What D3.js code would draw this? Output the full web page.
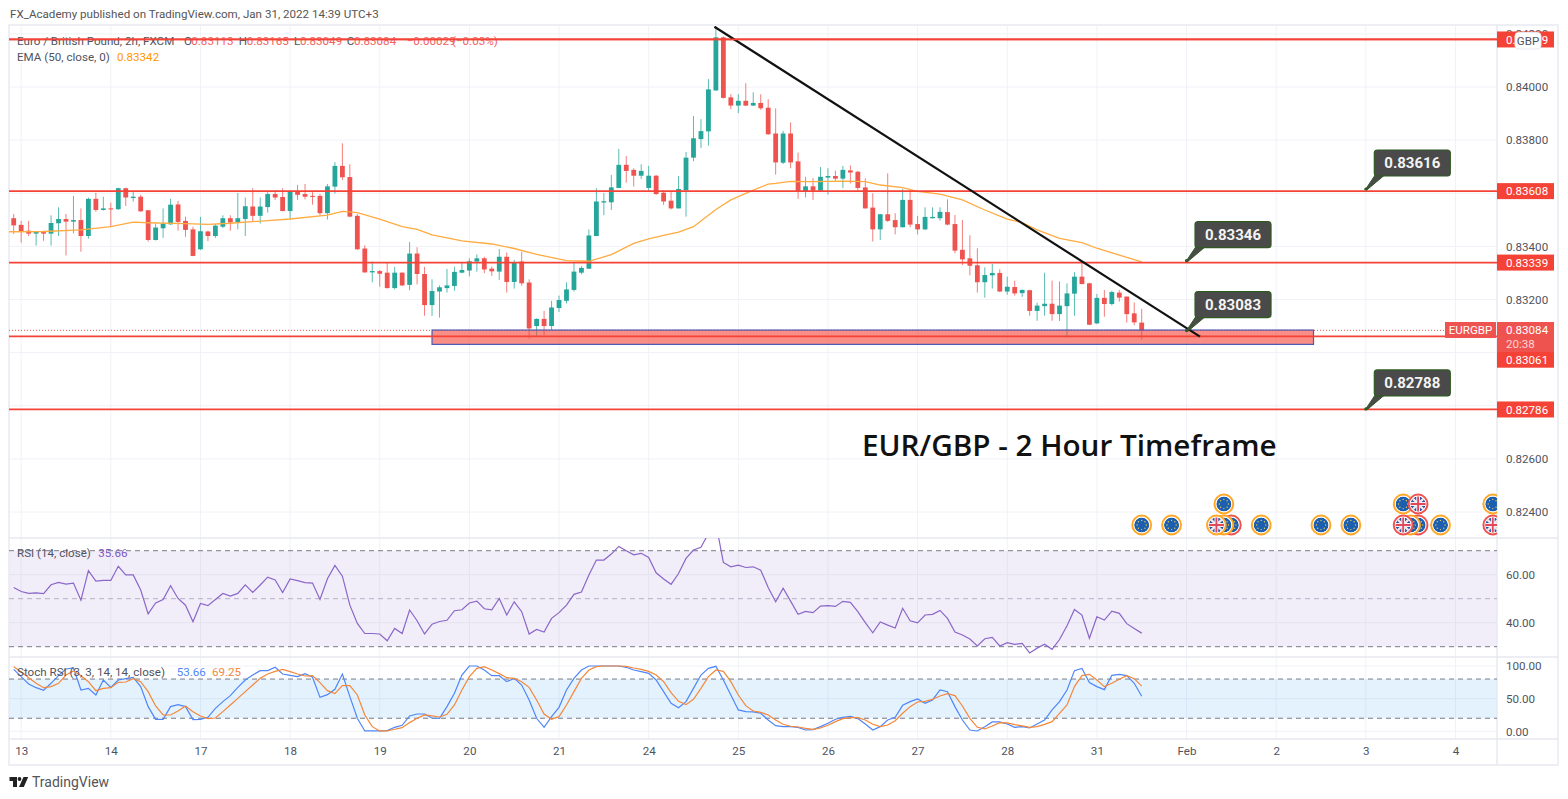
<!DOCTYPE html>
<html><head><meta charset="utf-8">
<style>html,body{margin:0;padding:0;background:#fff}svg{display:block;font-family:Roboto,sans-serif}</style>
<script src="https://cdn.jsdelivr.net/npm/d3@7"></script></head>
<body><svg id="c" width="1568" height="799"></svg>
<script>
// Prices in 1e-5 units, per 2-hour bar
const candleOpen=[83506,83481,83459,83448,83454,83448,83487,83503,83493,83499,
83439,83579,83537,83543,83540,83619,83582,83587,83536,83424,
83468,83483,83558,83496,83464,83389,83456,83439,83474,83506,
83490,83503,83550,83515,83548,83597,83586,83533,83606,83597,
83590,83590,83525,83625,83703,83661,83515,83392,83302,83307,
83301,83243,83301,83255,83373,83296,83179,83230,83243,83251,
83301,83309,83343,83355,83316,83305,83361,83266,83343,83264,
83100,83127,83100,83168,83195,83236,83301,83316,83439,83565,
83566,83620,83707,83688,83666,83620,83666,83602,83572,83543,
83612,83734,83804,83833,83987,84187,83961,83930,83948,83930,
83940,83922,83825,83715,83825,83720,83607,83626,83610,83659,
83665,83655,83686,83681,83622,83546,83464,83521,83499,83472,
83575,83484,83464,83506,83506,83529,83484,83387,83355,83329,
83265,83291,83300,83230,83247,83224,83235,83157,83175,83184,
83145,83175,83222,83286,83261,83110,83206,83183,83226,83211,
83148,83113];
const candleHigh=[83522,83496,83496,83457,83459,83517,83547,83522,83590,83543,
83584,83602,83587,83565,83621,83621,83605,83594,83537,83487,
83543,83579,83571,83512,83474,83511,83459,83484,83517,83517,
83601,83584,83619,83584,83604,83612,83619,83612,83631,83635,
83604,83597,83635,83717,83788,83709,83522,83404,83343,83311,
83339,83323,83302,83417,83397,83323,83276,83253,83315,83323,
83340,83355,83370,83361,83324,83390,83377,83349,83380,83276,
83129,83157,83195,83215,83265,83339,83326,83464,83619,83600,
83669,83767,83740,83694,83709,83703,83669,83612,83606,83665,
83755,83891,83879,84030,84227,84190,83973,83973,84014,83980,
83973,83954,83920,83835,83867,83753,83662,83657,83699,83694,
83685,83703,83705,83684,83656,83600,83522,83675,83525,83616,
83615,83515,83547,83547,83547,83577,83518,83499,83442,83393,
83321,83334,83314,83286,83271,83238,83236,83188,83301,83271,
83268,83261,83303,83342,83263,83221,83236,83233,83236,83211,
83189,83165];
const candleLow=[83447,83414,83439,83403,83421,83403,83439,83366,83449,83380,
83429,83530,83535,83472,83537,83552,83569,83530,83418,83422,
83432,83481,83459,83436,83363,83387,83420,83432,83469,83459,
83464,83439,83492,83486,83527,83575,83532,83501,83575,83577,
83557,83518,83501,83599,83650,83510,83387,83301,83265,83248,
83241,83238,83251,83235,83257,83139,83138,83132,83226,83233,
83299,83287,83305,83299,83289,83274,83226,83241,83252,83053,
83060,83066,83085,83153,83185,83230,83295,83315,83438,83518,
83537,83619,83640,83625,83654,83609,83594,83556,83539,83542,
83512,83721,83770,83779,83986,83956,83916,83902,83928,83928,
83914,83820,83670,83710,83694,83579,83584,83575,83607,83595,
83647,83619,83637,83612,83542,83418,83424,83492,83445,83471,
83472,83445,83461,83505,83497,83479,83374,83330,83291,83226,
83207,83241,83228,83218,83215,83210,83139,83120,83139,83120,
83119,83057,83139,83258,83103,83108,83135,83178,83192,83113,
83103,83049];
const candleClose=[83479,83457,83448,83454,83448,83488,83503,83493,83499,83439,
83579,83537,83543,83540,83619,83584,83587,83532,83424,83471,
83486,83557,83492,83462,83364,83457,83439,83478,83506,83490,
83506,83551,83515,83550,83597,83584,83533,83606,83594,83587,
83587,83525,83626,83703,83660,83512,83389,83302,83307,83297,
83243,83301,83253,83373,83296,83179,83232,83246,83253,83304,
83311,83344,83355,83313,83306,83361,83266,83338,83261,83091,
83127,83100,83170,83198,83238,83305,83319,83441,83569,83570,
83622,83707,83684,83666,83684,83666,83597,83569,83543,83616,
83734,83807,83834,83991,84187,83959,83930,83948,83930,83940,
83920,83822,83716,83825,83716,83609,83626,83610,83662,83665,
83655,83688,83678,83620,83543,83464,83521,83496,83472,83575,
83482,83464,83511,83511,83530,83482,83384,83351,83327,83265,
83292,83300,83230,83248,83223,83236,83157,83177,83184,83145,
83177,83223,83286,83258,83105,83206,83183,83228,83207,83145,
83114,83084];
const emaBars=[-1,4,9,13,16,18,23,26,29,34,37,42,44,46,49,52,54,56,60,64,67,70,74,77,80,83,85,87,89,91,94,96,99,101,102,104,107,111,114,116,119,121,124,127,130,133,135,137,140,143,145,148,151];
const emaValues=[83455,83456,83462,83474,83491,83489,83486,83483,83487,83497,83503,83518,83532,83527,83503,83474,83464,83443,83421,83409,83392,83370,83346,83344,83369,83411,83428,83441,83454,83474,83539,83575,83612,83634,83637,83645,83644,83646,83644,83631,83621,83607,83597,83575,83537,83503,83489,83462,83430,83414,83393,83367,83342];
const rsiValues=[54.7,53.0,52.2,52.4,52.1,55.8,56.8,56.1,56.5,49.4,61.7,57.3,57.6,57.6,63.5,59.9,59.9,53.6,43.7,48.2,49.7,55.4,50.1,47.3,40.4,48.0,47.1,49.7,52.2,51.1,52.2,55.8,52.6,55.7,59.0,57.8,52.6,58.2,57.5,56.7,56.5,49.7,58.3,63.9,59.4,47.3,39.7,35.5,35.5,35.3,32.5,37.6,35.5,45.3,40.8,35.3,39.4,40.5,41.0,45.0,45.4,48.2,49.0,45.8,45.4,50.1,43.2,48.7,44.6,
35.3,37.2,36.1,41.8,44.2,47.3,51.8,52.8,59.9,66.1,66.1,68.6,71.8,70.0,68.3,68.9,67.2,60.8,58.2,56.0,60.5,66.8,70.3,71.4,77.2,81.4,65.1,63.3,64.0,63.0,63.3,61.9,54.7,48.7,54.4,49.0,43.5,44.7,44.2,46.9,47.1,46.8,48.9,48.5,44.6,40.0,35.8,40.3,39.0,37.8,46.0,40.8,39.9,43.2,43.5,45.1,41.8,36.1,34.9,33.2,30.3,33.3,33.9,30.3,31.7,31.0,31.4,27.4,29.4,31.0,28.9,33.0,38.7,45.5,43.2,33.5,42.5,41.1,44.8,43.9,39.6,37.6,35.66];
const stochK=[94.9,83.7,72.4,66.8,62.8,73.5,85.2,95.4,96.9,63.3,65.8,55.6,78.6,67.3,78.6,80.6,82.7,68.4,37.8,18.4,18.4,37.8,40.8,37.8,17.9,18.4,21.4,35.2,45.4,54.6,67.3,78.6,86.2,92.9,92.9,98.0,87.8,85.7,83.7,88.3,82.7,52.0,56.1,64.3,87.8,53.1,19.9,0.5,0.5,0.5,1.0,6.1,9.2,23.5,26.5,26.5,20.4,19.9,37.8,58.2,86.2,100,100,93.9,85.2,85.2,76.0,81.1,70.9,
48.0,19.9,6.1,22.4,36.7,63.3,81.1,93.9,100,100,100,100,100,98,93.9,91.3,88.8,78.6,60.7,42.9,36.2,45.4,65.8,86.2,96.4,99.5,78.6,55.6,32.7,30.1,29.6,27.6,17.3,8.7,7.1,7.1,6.1,2.0,2.6,7.1,12.2,18.4,21.4,23.0,19.4,11.2,2.0,7.1,17.3,21.4,39.8,45.4,49.5,42.9,48.0,63.3,60.7,37.8,17.3,2.0,0.5,7.1,14.3,14.3,11.2,6.1,7.1,5.1,11.2,17.3,32.7,45.4,63.3,92.9,96.4,74.5,68.4,63.8,85.7,87.2,85.2,73.5,53.66];
const stochD=[99,91.3,82.1,73.5,66.8,68.4,73.5,86.2,92.3,85.2,76,62.2,65.8,66.8,75,75.5,80.6,76,60.7,38.8,25,25,31.1,38.8,30.1,23.5,19.4,20.4,30.1,40.3,50.5,60.7,70.9,81.1,87.8,91.8,94.9,91.3,87.8,84.7,85.2,74.5,62.2,57.7,69.9,69.9,55.6,25,7.1,0.5,0.5,3.1,5.6,13.3,19.9,25,23.5,21.9,26,40.3,63.3,83.7,96.4,99,93.9,88.3,82.1,81.1,76,
67.3,48,26.5,18.4,22.4,40.3,60.7,81.1,93.9,99,100,100,100,99.5,96.9,94.9,91.8,86.2,76,59.2,45.9,40.8,49,65.8,83.7,93.9,91.8,76,55.6,39.3,31.1,29.1,25,17.3,10.7,7.7,6.6,4.6,3.1,5.1,9.2,14.8,19.4,20.9,20.9,17.3,10.7,7.1,9.7,16.3,27.6,37.8,44.9,45.9,49,54.1,57.7,54.6,38.8,19.9,6.1,3.6,8.2,13.3,12.8,10.2,8.2,6.1,7.1,10.7,14.8,27.6,40.3,68.4,85.2,87.2,78.6,68.4,73.5,79.6,85.2,80.6,69.25];
const dayBars=[1,13,25,37,49,61,73,85,97,109,121,133,145,157,169,181,193];
const dayLabels=["13","14","17","18","19","20","21","24","25","26","27","28","31","Feb","2","3","4"];
const priceTicks=[84200,84000,83800,83600,83400,83200,83000,82800,82600,82400];
const priceLabelTicks=[84200,84000,83800,83400,83200,82800,82600,82400];
const levelPrices=[84179,83608,83339,83061,82786];
const rsiTicks=[60,40], rsiBands=[70,50,30];
const stochTicks=[100,50,0], stochBands=[80,20];
const calloutBars=[181,157,157,181];
const calloutPrices=[83616,83346,83083,82788];
const zonePrices=[83085,83031], zoneBars=[56,174];
const trendBars=[93.8,158.8], trendPrices=[84227,83060];
const lastPrice=83084;
const eventBars=[151,155,163,162,161,167,175,179,188,187,186,191,198,162,186,188,198];
const eventRows=[0,0,0,0,0,0,0,0,0,0,0,0,0,1,1,1,1];
const eventFlags=["EU","EU","EU","EU","UK","EU","EU","EU","EU","EU","UK","EU","UK","EU","EU","UK","EU"];
const eventRings=["o","o","r","o","o","o","o","o","r","o","r","o","r","o","o","r","o"];

const svg=d3.select("#c");
const L=9,AX=1497,FR=1558,TOP=26,P1=538,P2=657,P3=739,BOT=765,AF=11.6;
const x=d3.scaleLinear().domain([0,151]).range([13.7,1141.7]);
const yP=d3.scaleLinear().domain([84000,82400]).range([87,512]);
const yR=d3.scaleLinear().domain([60,40]).range([574.7,622.7]);
const yS=d3.scaleLinear().domain([100,0]).range([666,731.3]);
const defs=svg.append("defs");
const clip=(id,y0,y1)=>defs.append("clipPath").attr("id",id).append("rect").attr("x",L).attr("y",y0).attr("width",AX-L).attr("height",y1-y0);
clip("cp",TOP,P1);clip("cr",P1,P2);clip("cs",P2,P3);
defs.append("clipPath").attr("id","flag").append("circle").attr("r",7.6);

const GRID="#f0f2f7",FRAME="#e6e9f0",TXT="#50535e",GREEN="#26a69a",RED="#ef5350",LINE="#f44336";

// header
svg.append("text").attr("x",10).attr("y",18).attr("font-size",11.6).attr("fill","#555").text("FX_Academy published on TradingView.com, Jan 31, 2022 14:39 UTC+3");

// grid
const grid=svg.append("g").attr("stroke",GRID).attr("stroke-width",1);
grid.selectAll(".v").data(dayBars).join("line").attr("x1",d=>x(d)).attr("x2",d=>x(d)).attr("y1",TOP).attr("y2",P3);
grid.selectAll(".h").data(priceTicks).join("line").attr("x1",L).attr("x2",AX).attr("y1",d=>yP(d)).attr("y2",d=>yP(d));
grid.selectAll(".r").data(rsiTicks).join("line").attr("x1",L).attr("x2",AX).attr("y1",d=>yR(d)).attr("y2",d=>yR(d));
grid.selectAll(".s").data(stochTicks).join("line").attr("x1",L).attr("x2",AX).attr("y1",d=>yS(d)).attr("y2",d=>yS(d));

// indicator bands
svg.append("rect").attr("x",L).attr("width",AX-L).attr("y",yR(rsiBands[0])).attr("height",yR(rsiBands[2])-yR(rsiBands[0])).attr("fill","#7e57c2").attr("fill-opacity",.1);
svg.append("rect").attr("x",L).attr("width",AX-L).attr("y",yS(stochBands[0])).attr("height",yS(stochBands[1])-yS(stochBands[0])).attr("fill","#2196f3").attr("fill-opacity",.12);

// frame
const fr=svg.append("g").attr("stroke",FRAME).attr("stroke-width",1.4).attr("fill","none");
fr.append("rect").attr("x",L).attr("y",TOP-1).attr("width",FR-L).attr("height",BOT-TOP+1);
[P1,P2,P3].forEach(y=>fr.append("line").attr("x1",L).attr("x2",FR).attr("y1",y).attr("y2",y));
fr.append("line").attr("x1",AX).attr("x2",AX).attr("y1",TOP-1).attr("y2",BOT);

// candles
const bars=candleOpen.map((o,i)=>({i,o,h:candleHigh[i],l:candleLow[i],c:candleClose[i]}));
const gc=svg.append("g").attr("clip-path","url(#cp)");
const col=d=>d.c>=d.o?GREEN:RED;
gc.selectAll(".w").data(bars).join("line").attr("x1",d=>x(d.i)).attr("x2",d=>x(d.i)).attr("y1",d=>yP(d.h)).attr("y2",d=>yP(d.l)).attr("stroke",col).attr("stroke-width",1).attr("stroke-opacity",.75);
gc.selectAll(".b").data(bars).join("rect").attr("x",d=>x(d.i)-2.4).attr("width",4.8).attr("y",d=>yP(Math.max(d.o,d.c))).attr("height",d=>Math.max(1,Math.abs(yP(d.o)-yP(d.c)))).attr("fill",col);

// EMA
const emaLine=d3.line().x((d,i)=>x(emaBars[i])).y(d=>yP(d));
gc.append("path").attr("d",emaLine(emaValues)).attr("fill","none").attr("stroke","#ffab40").attr("stroke-width",1.3);

// dotted last price
gc.append("line").attr("x1",L).attr("x2",1445).attr("y1",yP(lastPrice)).attr("y2",yP(lastPrice)).attr("stroke",RED).attr("stroke-width",1).attr("stroke-dasharray","1 2");

// zone
gc.append("rect").attr("x",x(zoneBars[0])).attr("width",x(zoneBars[1])-x(zoneBars[0])).attr("y",yP(zonePrices[0])).attr("height",yP(zonePrices[1])-yP(zonePrices[0])).attr("fill",LINE).attr("fill-opacity",.6).attr("stroke","#4a5bb5").attr("stroke-width",1.2);

// levels
gc.selectAll(".lv").data(levelPrices).join("line").attr("x1",L).attr("x2",AX).attr("y1",d=>yP(d)).attr("y2",d=>yP(d)).attr("stroke",LINE).attr("stroke-width",1.8);

// trendline
gc.append("line").attr("x1",x(trendBars[0])).attr("y1",yP(trendPrices[0])).attr("x2",x(trendBars[1])).attr("y2",yP(trendPrices[1])).attr("stroke","#111").attr("stroke-width",2.2);

// callouts
calloutBars.forEach((b,i)=>{
  const ax=x(b),ay=yP(calloutPrices[i]);
  const g=svg.append("g");
  g.append("path").attr("d",`M${ax},${ay} L${ax+10},${ay-15} L${ax+20},${ay-15} L${ax+1},${ay+1} Z`).attr("fill","#4a4a4a").attr("stroke","#2f5a22").attr("stroke-width",1);
  g.append("rect").attr("x",ax+8.5).attr("y",ay-39).attr("width",76).attr("height",26).attr("rx",3).attr("fill","#4a4a4a").attr("stroke","#2f5a22").attr("stroke-width",1.2);
  g.append("circle").attr("cx",ax).attr("cy",ay).attr("r",1.6).attr("fill","#2f5a22");
  g.append("text").attr("x",ax+46.5).attr("y",ay-20.8).attr("text-anchor","middle").attr("font-size",15).attr("font-weight",700).attr("fill","#f4f4f4").text((calloutPrices[i]/1e5).toFixed(5));
});

// big title
svg.append("text").attr("x",862).attr("y",456).attr("font-family","'Open Sans',sans-serif").attr("font-size",29.7).attr("font-weight",600).attr("fill","#111").text("EUR/GBP - 2 Hour Timeframe");

// events
const ge=svg.append("g").attr("clip-path","url(#cp)");
eventBars.forEach((b,i)=>{
  const g=ge.append("g").attr("transform",`translate(${x(b)},${eventRows[i]?504:525})`);
  g.append("circle").attr("r",9.4).attr("fill","#fff").attr("stroke",eventRings[i]==="o"?"#ffa726":"#ef5350").attr("stroke-width",2);
  const f=g.append("g").attr("clip-path","url(#flag)");
  if(eventFlags[i]==="EU"){
    f.append("circle").attr("r",7.6).attr("fill","#1c5fb0");
    d3.range(8).forEach(k=>f.append("circle").attr("cx",4.6*Math.cos(k*Math.PI/4)).attr("cy",4.6*Math.sin(k*Math.PI/4)).attr("r",.7).attr("fill","#e8c84a"));
  } else {
    f.append("circle").attr("r",7.6).attr("fill","#2a4fa0");
    f.append("path").attr("d","M-8,-8L8,8M8,-8L-8,8").attr("stroke","#f0e6e8").attr("stroke-width",2.4);
    f.append("path").attr("d","M0,-8V8M-8,0H8").attr("stroke","#f4f0f0").attr("stroke-width",3.8);
    f.append("path").attr("d","M0,-8V8M-8,0H8").attr("stroke","#e2475b").attr("stroke-width",1.8);
  }
});

// RSI
const gr=svg.append("g").attr("clip-path","url(#cr)");
rsiBands.forEach((v,i)=>gr.append("line").attr("x1",L).attr("x2",AX).attr("y1",yR(v)).attr("y2",yR(v)).attr("stroke",i===1?"#b4b0c4":"#787b86").attr("stroke-dasharray","5 4"));
gr.append("path").attr("d",d3.line().x((d,i)=>x(i)).y(d=>yR(d))(rsiValues)).attr("fill","none").attr("stroke","#8a66c8").attr("stroke-width",1.2);

// Stoch
const gs=svg.append("g").attr("clip-path","url(#cs)");
stochBands.forEach(v=>gs.append("line").attr("x1",L).attr("x2",AX).attr("y1",yS(v)).attr("y2",yS(v)).attr("stroke","#787b86").attr("stroke-dasharray","5 4"));
const sl=d3.line().x((d,i)=>x(i)).y(d=>yS(d));
gs.append("path").attr("d",sl(stochK)).attr("fill","none").attr("stroke","#4f86f7").attr("stroke-width",1.2);
gs.append("path").attr("d",sl(stochD)).attr("fill","none").attr("stroke","#f5873a").attr("stroke-width",1.2);

// axes
const styleAxis=g=>{g.select(".domain").remove();g.selectAll("line").remove();g.selectAll("text").attr("fill",TXT).attr("font-size",AF).attr("font-family","Roboto,sans-serif");};
svg.append("g").attr("transform",`translate(${AX+1},0)`).call(d3.axisRight(yP).tickValues(priceLabelTicks).tickSize(0).tickPadding(8).tickFormat(v=>(v/1e5).toFixed(5))).call(styleAxis);
svg.append("g").attr("transform",`translate(${AX+1},0)`).call(d3.axisRight(yR).tickValues(rsiTicks).tickSize(0).tickPadding(8).tickFormat(d3.format(".2f"))).call(styleAxis);
svg.append("g").attr("transform",`translate(${AX+1},0)`).call(d3.axisRight(yS).tickValues(stochTicks).tickSize(0).tickPadding(8).tickFormat(d3.format(".2f"))).call(styleAxis);
svg.append("g").attr("transform",`translate(0,${P3+5})`).call(d3.axisBottom(x).tickValues(dayBars).tickSize(0).tickPadding(3).tickFormat((d,i)=>dayLabels[i])).call(styleAxis);

// right labels
levelPrices.forEach((v,i)=>{
  const stacked=v===83061;
  const cy=stacked?359.7:yP(v);
  svg.append("rect").attr("x",AX).attr("y",cy-8).attr("width",57).attr("height",16).attr("fill",LINE);
  svg.append("text").attr("x",AX+9).attr("y",cy+4.2).attr("font-size",AF).attr("fill","#fff").text((v/1e5).toFixed(5));
});
svg.append("rect").attr("x",AX).attr("y",322).attr("width",57).attr("height",30).attr("fill",RED);
svg.append("text").attr("x",AX+9).attr("y",334.2).attr("font-size",AF).attr("fill","#fff").text((lastPrice/1e5).toFixed(5));
svg.append("text").attr("x",AX+9).attr("y",348.2).attr("font-size",AF).attr("fill","#fbd4d3").text("20:38");
svg.append("rect").attr("x",1445).attr("y",322).attr("width",51).attr("height",16).attr("fill",RED);
svg.append("text").attr("x",1470.5).attr("y",334.2).attr("text-anchor","middle").attr("font-size",AF).attr("fill","#fff").text("EURGBP");
svg.append("rect").attr("x",1515).attr("y",32.5).attr("width",26).attr("height",16.5).attr("rx",3.5).attr("fill","#fff").attr("stroke","#e6e9f0");
svg.append("text").attr("x",1528).attr("y",45).attr("text-anchor","middle").attr("font-size",AF).attr("fill",TXT).text("GBP");

// legends
const leg=svg.append("g").attr("font-size",11.6);
const T=(xx,y,s,c)=>leg.append("text").attr("x",xx).attr("y",y).attr("fill",c).text(s);
T(17,44.5,"Euro / British Pound, 2h, FXCM",TXT);
const PR="#f0625f";
T(184,44.5,"O",TXT);T(191.3,44.5,"0.83113",PR);T(238.7,44.5,"H",TXT);T(246.7,44.5,"0.83165",PR);T(294,44.5,"L",TXT);T(300,44.5,"0.83049",PR);T(346.7,44.5,"C",TXT);T(354,44.5,"0.83084",PR);T(406.7,44.5,"\u22120.00029",PR);T(452,44.5,"(\u22120.03%)",PR);
T(17,61,"EMA (50, close, 0)",TXT);T(117,61,"0.83342","#ff9800");
T(17,557,"RSI (14, close)",TXT);T(98.3,557,"35.66","#7e57c2");
T(17,676,"Stoch RSI (3, 3, 14, 14, close)",TXT);T(176.7,676,"53.66","#4f86f7");T(212,676,"69.25","#f5873a");
// top level line runs across the legend
svg.append("line").attr("x1",L).attr("x2",AX).attr("y1",yP(levelPrices[0])).attr("y2",yP(levelPrices[0])).attr("stroke",LINE).attr("stroke-width",1.8);

// footer logo
const lg=svg.append("g").attr("fill","#222");
lg.append("path").attr("d","M9.5,777H17V787H13V781H9.5Z");
lg.append("circle").attr("cx",19.5).attr("cy",779).attr("r",1.9);
lg.append("path").attr("d","M23.5,777H28.2L23.8,787H19Z");
svg.append("text").attr("x",32).attr("y",787).attr("font-size",14).attr("fill","#555").text("TradingView");
</script></body></html>
